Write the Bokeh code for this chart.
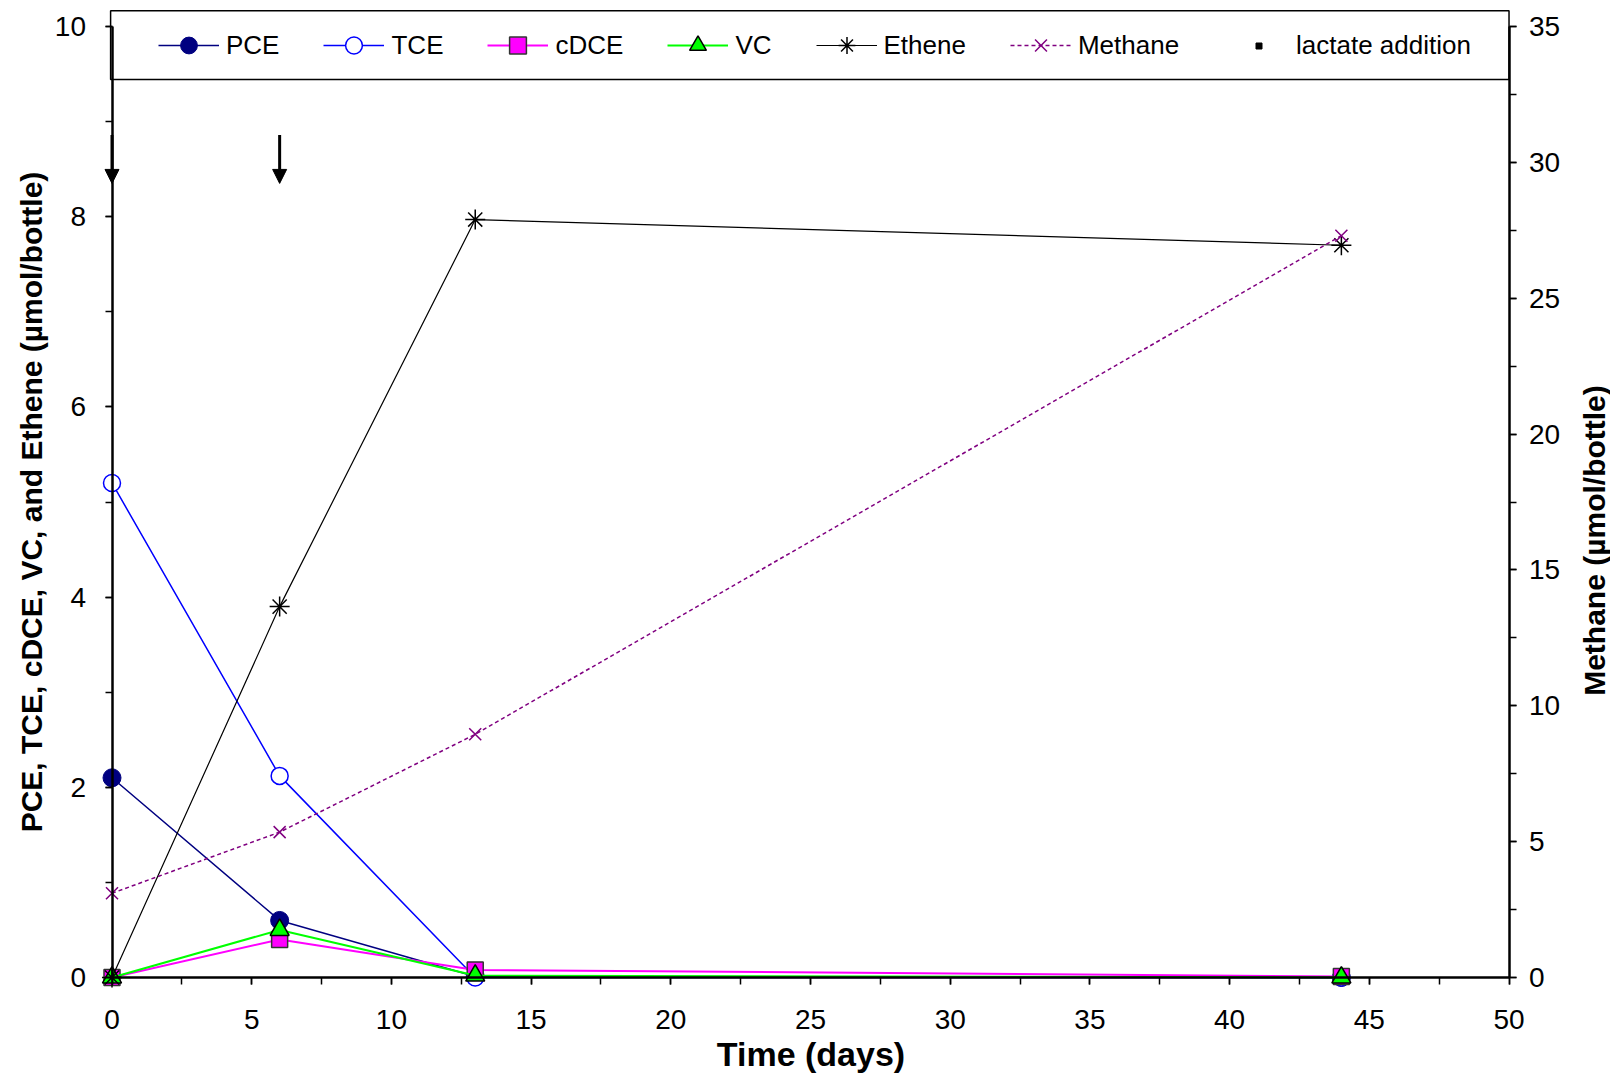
import math
from bokeh.plotting import figure
from bokeh.models import (Range1d, LinearAxis, SingleIntervalTicker, Legend, LegendItem,
                          Label, Arrow, NormalHead, ColumnDataSource)
from bokeh.embed import file_html
from bokeh.resources import INLINE

# ---- data ----
days = [0, 6, 13, 44]
pce = [2.1, 0.6, 0.01, 0.0]
tce = [5.2, 2.12, 0.0, 0.0]
cdce = [0.0, 0.4, 0.08, 0.01]
vc = [0.0, 0.5, 0.02, 0.0]
ethene = [0.0, 3.9, 7.97, 7.7]
methane = [3.1, 5.35, 8.95, 27.3]
lactate_days = [0, 6]

x_bounds = (0, 50)
y_bounds = (0, 10)
methane_bounds = (0, 35)

FONT = "Liberation Sans"

p = figure(width=1610, height=1074, frame_width=1610, frame_height=1074,
           x_range=Range1d(-3.9907, 53.632), y_range=Range1d(-1.01998, 10.2734),
           min_border=0, min_border_left=0, min_border_right=0,
           min_border_top=0, min_border_bottom=0,
           x_axis_location=None, y_axis_location=None,
           output_backend="svg", toolbar_location=None)
p.outline_line_color = None
p.background_fill_color = "white"
p.border_fill_color = "white"
p.grid.visible = False
p.extra_y_ranges = {"methane": Range1d(-3.56993, 35.9569)}


def style_axis(ax, title_size="30px"):
    ax.axis_line_width = 2.5
    ax.axis_line_color = "black"
    ax.major_tick_in = 0
    ax.major_tick_out = 7
    ax.minor_tick_in = 0
    ax.minor_tick_out = 7
    ax.major_tick_line_width = 1.5
    ax.minor_tick_line_width = 1.5
    ax.major_tick_line_color = "black"
    ax.minor_tick_line_color = "black"
    ax.major_label_text_font = FONT
    ax.major_label_text_font_size = "28px"
    ax.major_label_text_color = "black"
    ax.axis_label_text_font = FONT
    ax.axis_label_text_font_style = "bold"
    ax.axis_label_text_font_size = title_size
    ax.axis_label_text_color = "black"


xaxis = LinearAxis(ticker=SingleIntervalTicker(interval=5, num_minor_ticks=2),
                   axis_label="Time (days)", fixed_location=0, bounds=x_bounds)
style_axis(xaxis, title_size="34px")
xaxis.major_label_standoff = 26
xaxis.axis_label_standoff = 2
p.add_layout(xaxis, "below")

yaxis = LinearAxis(ticker=SingleIntervalTicker(interval=2, num_minor_ticks=2),
                   axis_label="PCE, TCE, cDCE, VC, and Ethene (µmol/bottle)",
                   fixed_location=0, bounds=y_bounds)
style_axis(yaxis)
yaxis.major_label_standoff = 19
yaxis.axis_label_standoff = 4
p.add_layout(yaxis, "left")

raxis = LinearAxis(y_range_name="methane",
                   ticker=SingleIntervalTicker(interval=5, num_minor_ticks=2),
                   fixed_location=50, bounds=methane_bounds)
style_axis(raxis)
raxis.major_label_standoff = 13
p.add_layout(raxis, "right")

# right axis title
p.add_layout(Label(x=53.06, y=4.595, text="Methane (µmol/bottle)", angle=math.pi / 2,
                   text_align="center", text_baseline="middle", text_font=FONT,
                   text_font_style="bold", text_font_size="30px", text_color="black"))

src = ColumnDataSource(dict(days=days, pce=pce, tce=tce, cdce=cdce, vc=vc,
                            ethene=ethene, methane=methane))

# legend frame box
p.quad(left=-0.05, right=50, bottom=9.443, top=10.165, fill_color="white",
       line_color="black", line_width=1.5)

l_pce = p.line("days", "pce", source=src, line_color="#000080", line_width=1.5)
s_pce = p.scatter("days", "pce", source=src, marker="circle", size=18,
                  fill_color="#000080", line_color="#000080")
l_tce = p.line("days", "tce", source=src, line_color="#0000FF", line_width=1.5)
s_tce = p.scatter("days", "tce", source=src, marker="circle", size=17,
                  fill_color="white", line_color="#0000FF", line_width=1.5)
l_cdce = p.line("days", "cdce", source=src, line_color="#FF00FF", line_width=2)
s_cdce = p.scatter("days", "cdce", source=src, marker="square", size=16,
                   fill_color="#FF00FF", line_color="#333333", line_width=1.5)
l_vc = p.line("days", "vc", source=src, line_color="#00FF00", line_width=2)
s_vc = p.scatter("days", "vc", source=src, marker="triangle", size=19,
                 fill_color="#00FF00", line_color="black", line_width=1.5)
l_eth = p.line("days", "ethene", source=src, line_color="black", line_width=1.2)
s_eth = p.scatter("days", "ethene", source=src, marker="asterisk", size=20,
                  line_color="black", line_width=1.5)
l_met = p.line("days", "methane", source=src, y_range_name="methane",
               line_color="#800080", line_width=1.5, line_dash="4 3")
s_met = p.scatter("days", "methane", source=src, y_range_name="methane", marker="x",
                  size=17, line_color="#800080", line_width=1.5)

# lactate additions
for d in lactate_days:
    p.add_layout(Arrow(end=NormalHead(size=14, fill_color="black", line_color="black",
                                      line_width=1),
                       x_start=d, y_start=8.86, x_end=d, y_end=8.35,
                       line_width=3, line_color="black"))
# legend proxy for the lactate additions (placed outside the visible range)
s_lac = p.scatter(x=lactate_days, y=[-5] * len(lactate_days), marker="square", size=7,
                  fill_color="black", line_color="black")

common = dict(orientation="horizontal", spacing=44, padding=0, margin=0,
              glyph_width=61, label_height=20, label_standoff=7,
              label_text_font=FONT, label_text_font_size="26px", label_text_color="black",
              border_line_color=None, background_fill_alpha=0)
legend = Legend(items=[
    LegendItem(label="PCE", renderers=[l_pce, s_pce]),
    LegendItem(label="TCE", renderers=[l_tce, s_tce]),
    LegendItem(label="cDCE", renderers=[l_cdce, s_cdce]),
    LegendItem(label="VC", renderers=[l_vc, s_vc]),
    LegendItem(label="Ethene", renderers=[l_eth, s_eth]),
    LegendItem(label="Methane", renderers=[l_met, s_met]),
], location=(158, 1008), glyph_height=42, **common)
p.add_layout(legend)
legend2 = Legend(items=[LegendItem(label="lactate addition", renderers=[s_lac])],
                 location=(1228, 1013), glyph_height=15, **common)
p.add_layout(legend2)

open("out.html", "w").write(file_html(p, INLINE))
